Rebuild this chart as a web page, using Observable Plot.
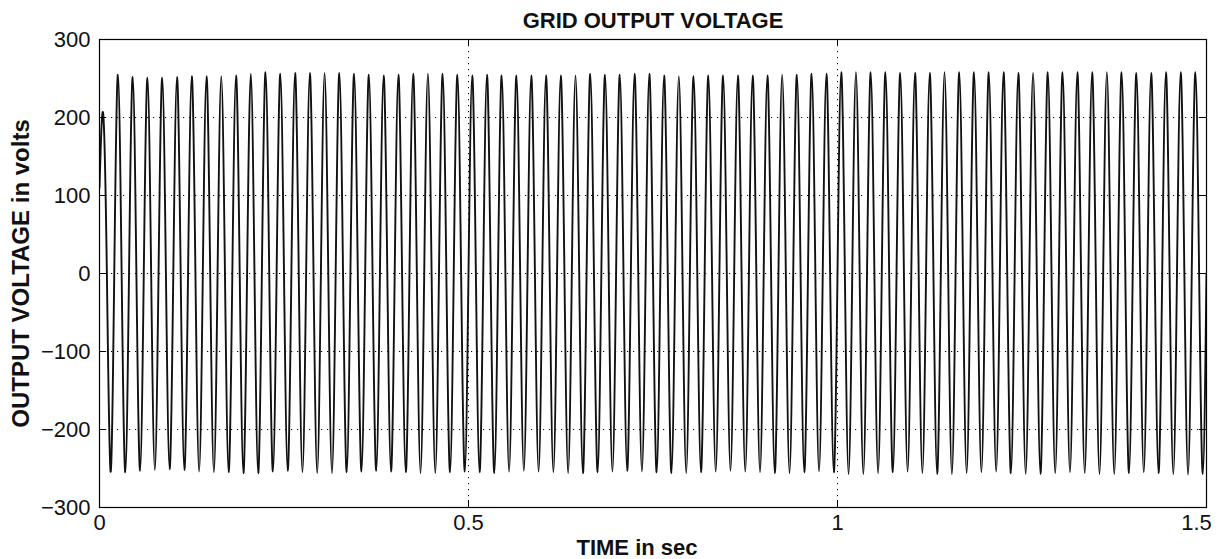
<!DOCTYPE html>
<html>
<head>
<meta charset="utf-8">
<script src="https://cdn.jsdelivr.net/npm/d3@7"></script>
<script src="https://cdn.jsdelivr.net/npm/@observablehq/plot@0.6"></script>
<style>
  html, body { margin: 0; padding: 0; background: #fff; }
  #chart svg { display: block; }
</style>
</head>
<body>
<div id="chart"></div>
<script>
// ---- data ----
const chartTitle = "GRID OUTPUT VOLTAGE";
const xLabel = "TIME in sec";
const yLabel = "OUTPUT VOLTAGE in volts";
const xTicks = [0, 0.5, 1, 1.5];
const yTicks = [-300, -200, -100, 0, 100, 200, 300];
const gridXTicks = [0.5, 1];
const gridYTicks = [-200, -100, 0, 100, 200];

const periodSec = 0.02;      // 50 Hz grid, 75 cycles in 1.5 s
const startVolt = 110;       // value at t = 0 (start transient)
const endVolt = 0;           // value at t = 1.5 s
// positive peak of each cycle (V)
const peakVolt = [
  205, 255, 252, 251, 251, 252, 253, 253, 253, 254,
  256, 258, 256, 257, 257, 257, 257, 256, 255, 254,
  255, 256, 256, 256, 255, 254, 255, 254, 254, 254,
  254, 254, 254, 256, 255, 255, 256, 256, 254, 253,
  253, 254, 254, 254, 254, 254, 255, 255, 256, 256,
  258, 258, 258, 258, 257, 257, 257, 258, 258, 258,
  258, 258, 257, 257, 258, 258, 258, 258, 258, 258,
  257, 257, 258, 258, 258
];
// negative trough of each cycle (V)
const troughVolt = [
  -254, -255, -253, -252, -251, -252, -254, -255, -255, -256,
  -256, -254, -253, -255, -256, -256, -255, -254, -253, -254,
  -255, -256, -256, -255, -254, -255, -256, -254, -253, -254,
  -255, -256, -256, -255, -254, -253, -254, -255, -256, -256,
  -255, -254, -253, -254, -255, -256, -256, -255, -254, -255,
  -257, -257, -256, -255, -254, -256, -257, -257, -256, -255,
  -254, -256, -257, -257, -256, -255, -256, -257, -257, -256,
  -255, -256, -257, -258, -257
];

// build the sample table: zero crossings and extrema of each cycle
const samples = [];
peakVolt.forEach((p, k) => {
  const t0 = k * periodSec;
  samples.push({t: t0, v: k === 0 ? startVolt : 0});
  samples.push({t: t0 + periodSec / 4, v: p});
  samples.push({t: t0 + periodSec / 2, v: 0});
  samples.push({t: t0 + 3 * periodSec / 4, v: troughVolt[k]});
});
samples.push({t: peakVolt.length * periodSec, v: endVolt});

const font = "'Liberation Sans', Arial, Helvetica, sans-serif";
const W = 1220, H = 559;
const mL = 99, mR = 14, mT = 39, mB = 52;
const plotW = W - mL - mR, plotH = H - mT - mB;
const tickLen = 7;
const fmtX = d => String(d);

const chart = Plot.plot({
  width: W,
  height: H,
  marginLeft: mL,
  marginRight: mR,
  marginTop: mT,
  marginBottom: mB,
  style: {fontFamily: font, background: "#fff", color: "#000"},
  x: {domain: [0, 1.5]},
  y: {domain: [-300, 300]},
  marks: [
    Plot.gridY(gridYTicks, {stroke: "#000", strokeOpacity: 1, strokeWidth: 1, strokeDasharray: "1.2,4.8"}),
    Plot.gridX(gridXTicks, {stroke: "#000", strokeOpacity: 1, strokeWidth: 1, strokeDasharray: "1.2,4.8"}),
    Plot.line(samples, {x: "t", y: "v", curve: "natural", stroke: "#111", strokeWidth: 1.9, clip: true}),
    // inward ticks on all four sides
    Plot.tickY(yTicks, {y: d => d, insetRight: plotW - tickLen, stroke: "#000"}),
    Plot.tickY(yTicks, {y: d => d, insetLeft: plotW - tickLen, stroke: "#000"}),
    Plot.tickX(xTicks, {x: d => d, insetTop: plotH - tickLen, stroke: "#000"}),
    Plot.tickX(xTicks, {x: d => d, insetBottom: plotH - tickLen, stroke: "#000"}),
    Plot.frame({stroke: "#000", strokeWidth: 1.2}),
    Plot.axisY(yTicks, {tickSize: 0, tickPadding: 9, fontSize: 22, label: null, fill: "#111"}),
    Plot.axisX(xTicks.slice(0, 3), {tickSize: 0, tickPadding: 7, fontSize: 22, tickFormat: fmtX, label: null, fill: "#111"}),
    Plot.axisX(xTicks.slice(3), {tickSize: 0, tickPadding: 7, fontSize: 22, tickFormat: fmtX, label: null, dx: -10, fill: "#111"}),
    Plot.text([chartTitle], {frameAnchor: "top", lineAnchor: "middle", dy: -19, fontSize: 22, fontWeight: "bold", fill: "#111"}),
    Plot.text([xLabel], {frameAnchor: "bottom", lineAnchor: "middle", dx: -16, dy: 40, fontSize: 22, fontWeight: "bold", fill: "#111"}),
    Plot.text([yLabel], {frameAnchor: "left", textAnchor: "middle", lineAnchor: "middle", dx: -78, rotate: -90, fontSize: 24, fontWeight: "bold", fill: "#111"})
  ]
});
document.getElementById("chart").append(chart);
</script>
</body>
</html>
